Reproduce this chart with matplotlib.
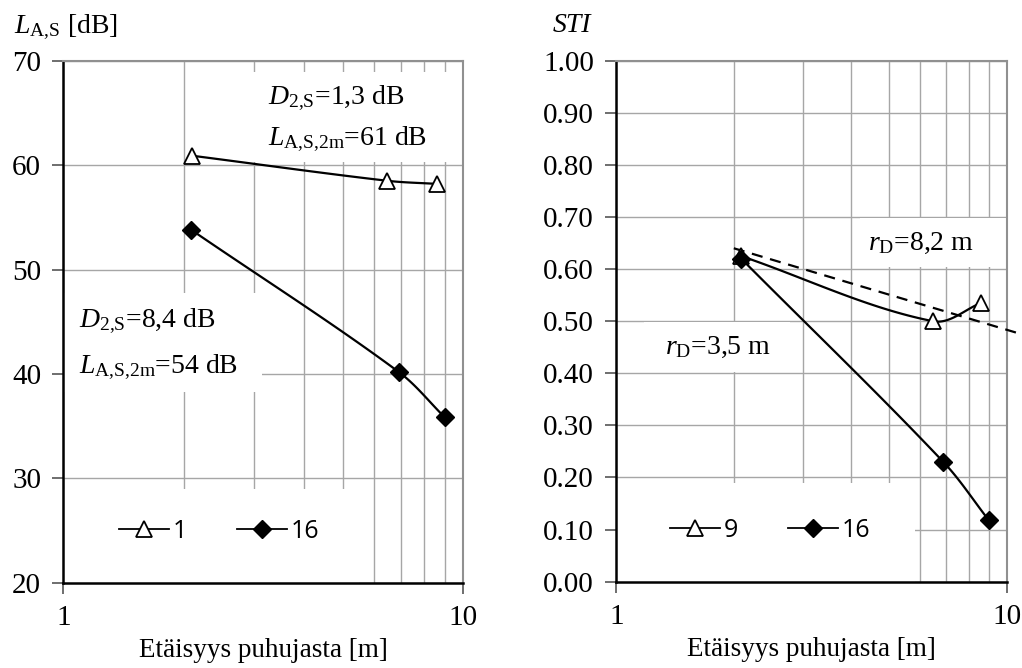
import numpy as np
import matplotlib
matplotlib.use('Agg')
import matplotlib.pyplot as plt
from matplotlib.patches import Rectangle
from matplotlib.lines import Line2D
from matplotlib.ticker import FixedLocator, LogLocator, NullFormatter, FuncFormatter

# Vasen kuva: A-painotettu puhetaso etäisyyden funktiona
dist_1 = [2.1, 6.47, 8.6]
level_1 = [60.9, 58.5, 58.2]
dist_16 = [2.09, 6.9, 9.0]
level_16 = [53.8, 40.2, 35.85]

# Oikea kuva: STI etäisyyden funktiona
dist_9 = [2.09, 6.48, 8.6]
sti_9 = [0.625, 0.50, 0.535]
dist_16s = [2.09, 6.88, 9.0]
sti_16s = [0.62, 0.23, 0.118]

# katkoviiva (trendi)
dist_trend = [2.0, 10.7]
sti_trend = [0.64, 0.477]

plt.rcParams['font.family'] = 'Liberation Serif'
plt.rcParams['mathtext.fontset'] = 'custom'
plt.rcParams['mathtext.rm'] = 'Liberation Serif'
plt.rcParams['mathtext.it'] = 'Liberation Serif:italic'
plt.rcParams['mathtext.bf'] = 'Liberation Serif:bold'

GRID = '#a6a6a6'
FS = 20


def smooth(x, y, ylim, aspect=1.3, n=40):
    # pehmennetty viiva: Bezier, tangentin pituus rajattu segmentin pituuteen
    u = np.log10(x)
    v = (np.asarray(y, float) - ylim[0]) / (ylim[1] - ylim[0]) * aspect
    p = np.column_stack([u, v])
    m = len(p)
    tang = []
    for i in range(m):
        d = p[min(i + 1, m - 1)] - p[max(i - 1, 0)]
        tang.append(d / np.hypot(*d))
    out = [p[:1]]
    t = np.linspace(0, 1, n)[1:, None]
    for i in range(m - 1):
        L = np.hypot(*(p[i + 1] - p[i]))
        c1 = p[i] + tang[i] * L / 3
        c2 = p[i + 1] - tang[i + 1] * L / 3
        seg = (1 - t)**3 * p[i] + 3 * (1 - t)**2 * t * c1 + 3 * (1 - t) * t**2 * c2 + t**3 * p[i + 1]
        out.append(seg)
    q = np.vstack(out)
    return 10**q[:, 0], q[:, 1] / aspect * (ylim[1] - ylim[0]) + ylim[0]


def style_axis(ax, ylim, yticks, fmt):
    ax.set_xscale('log')
    ax.set_xlim(1, 10)
    ax.set_ylim(*ylim)
    ax.xaxis.set_major_locator(FixedLocator([1, 10]))
    ax.xaxis.set_major_formatter(FuncFormatter(lambda v, p: '%d' % v))
    ax.xaxis.set_minor_locator(LogLocator(base=10, subs=np.arange(2, 10)))
    ax.xaxis.set_minor_formatter(NullFormatter())
    ax.set_yticks(yticks)
    ax.yaxis.set_major_formatter(FuncFormatter(lambda v, p: fmt % v))
    ax.tick_params(axis='both', which='major', length=8, width=1.2, labelsize=21, color='#555555')
    ax.tick_params(axis='y', pad=8)
    ax.tick_params(axis='x', pad=8)
    ax.tick_params(which='minor', length=0)
    ax.set_axisbelow(True)
    ax.grid(which='major', color=GRID, linewidth=1.0)
    ax.grid(which='minor', axis='x', color=GRID, linewidth=1.0)
    for s in ['left', 'bottom']:
        ax.spines[s].set_color('black')
        ax.spines[s].set_linewidth(1.8)
    for s in ['top', 'right']:
        ax.spines[s].set_color('#909090')
        ax.spines[s].set_linewidth(1.5)
    ax.set_xlabel('Etäisyys puhujasta [m]', fontsize=19.5, labelpad=5)


def white_box(ax, x0, y0, x1, y1):
    ax.add_patch(Rectangle((x0, y0), x1 - x0, y1 - y0, transform=ax.transAxes,
                           facecolor='white', edgecolor='none', zorder=1))


tri = dict(marker='^', markersize=12, markerfacecolor='white', markeredgecolor='black', markeredgewidth=1.3)
dia = dict(marker='D', markersize=9, markerfacecolor='black', markeredgecolor='black')
legend_font = {'family': 'Open Sans', 'size': 18}

fig = plt.figure(figsize=(10.22, 6.68), dpi=100)
ax1 = fig.add_axes([0.062, 0.1277, 0.391, 0.7814])
ax2 = fig.add_axes([0.603, 0.1292, 0.382, 0.7799])

# --- vasen ---
ylim1 = (20, 70)
style_axis(ax1, ylim1, np.arange(20, 71, 10), '%d')
white_box(ax1, 0.474, 0.806, 1.0, 0.978)
white_box(ax1, 0.0, 0.365, 0.497, 0.555)
white_box(ax1, 0.0, 0.0, 0.74, 0.18)

xs, ys = smooth(dist_1, level_1, ylim1)
ax1.plot(xs, ys, color='black', linewidth=1.6, zorder=3)
ax1.plot(dist_1, level_1, linestyle='none', zorder=4, **tri)
xs, ys = smooth(dist_16, level_16, ylim1)
ax1.plot(xs, ys, color='black', linewidth=1.6, zorder=3)
ax1.plot(dist_16, level_16, linestyle='none', zorder=4, **dia)

ax1.text(0.512, 0.917, r'$D_{\text{2,S}}$=1,3 dB', transform=ax1.transAxes, fontsize=FS, va='baseline', zorder=5)
ax1.text(0.512, 0.8385, r'$L_{\text{A,S,2m}}$=61 dB', transform=ax1.transAxes, fontsize=FS, va='baseline', zorder=5)
ax1.text(0.039, 0.490, r'$D_{\text{2,S}}$=8,4 dB', transform=ax1.transAxes, fontsize=FS, va='baseline', zorder=5)
ax1.text(0.039, 0.402, r'$L_{\text{A,S,2m}}$=54 dB', transform=ax1.transAxes, fontsize=FS, va='baseline', zorder=5)

h1 = [Line2D([], [], color='black', linewidth=1.3, **tri), Line2D([], [], color='black', linewidth=1.3, **dia)]
leg = ax1.legend(h1, ['1', '16'], loc='center', bbox_to_anchor=(0.39, 0.098), ncol=2, frameon=False,
                 prop=legend_font, handlelength=2.0, handletextpad=0.15, columnspacing=2.0)
leg.set_zorder(6)

fig.text(14 / 1022, 1 - 27 / 668, r'$L_{\text{A,S}}$ [dB]', fontsize=FS, va='center', ha='left')

# --- oikea ---
ylim2 = (0, 1)
style_axis(ax2, ylim2, np.arange(0, 1.01, 0.1), '%.2f')
white_box(ax2, 0.624, 0.604, 1.0, 0.698)
white_box(ax2, 0.07, 0.402, 0.445, 0.498)
white_box(ax2, 0.0, 0.0, 0.766, 0.19)

ax2.plot(dist_trend, sti_trend, color='black', linewidth=1.6, linestyle=(0, (5, 3.5)), zorder=3, clip_on=False)
xs, ys = smooth(dist_9, sti_9, ylim2)
ax2.plot(xs, ys, color='black', linewidth=1.6, zorder=3)
ax2.plot(dist_9, sti_9, linestyle='none', zorder=4, **tri)
xs, ys = smooth(dist_16s, sti_16s, ylim2)
ax2.plot(xs, ys, color='black', linewidth=1.6, zorder=3)
ax2.plot(dist_16s, sti_16s, linestyle='none', zorder=4, **dia)

ax2.text(0.644, 0.637, r'$r_{\text{D}}$=8,2 m', transform=ax2.transAxes, fontsize=FS, va='baseline', zorder=5)
ax2.text(0.1255, 0.438, r'$r_{\text{D}}$=3,5 m', transform=ax2.transAxes, fontsize=FS, va='baseline', zorder=5)

h2 = [Line2D([], [], color='black', linewidth=1.3, **tri), Line2D([], [], color='black', linewidth=1.3, **dia)]
leg = ax2.legend(h2, ['9', '16'], loc='center', bbox_to_anchor=(0.394, 0.099), ncol=2, frameon=False,
                 prop=legend_font, handlelength=2.0, handletextpad=0.15, columnspacing=2.0)
leg.set_zorder(6)

fig.text(591 / 1022, 1 - 25 / 668, 'STI', fontsize=FS, style='italic', va='center', ha='right')

fig.savefig('out.png', dpi=100)
